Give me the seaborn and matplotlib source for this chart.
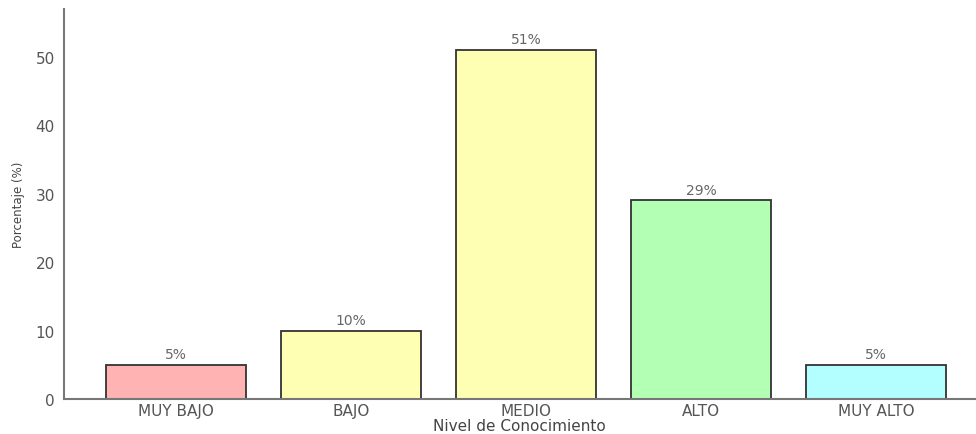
import matplotlib
matplotlib.use("Agg")
import matplotlib.pyplot as plt
import seaborn as sns
import pandas as pd

niveles = ["MUY BAJO", "BAJO", "MEDIO", "ALTO", "MUY ALTO"]
porcentajes = [5, 10, 51, 29, 5]
colores = ["#FFB3B3", "#FFFFB3", "#FFFFB3", "#B3FFB3", "#B3FFFF"]

sns.set_theme(style="white")
plt.rcParams["font.family"] = ["DejaVu Sans"]

df = pd.DataFrame({"Nivel": niveles, "Porcentaje": porcentajes})

fig = plt.figure(figsize=(9.76, 4.35), dpi=100)
ax = fig.add_axes([0.0656, 0.0805, 0.934, 0.897])

sns.barplot(data=df, x="Nivel", y="Porcentaje", hue="Nivel", palette=colores,
            legend=False, width=0.8, edgecolor="#333333", linewidth=1.3,
            saturation=1, ax=ax)

for i, v in enumerate(porcentajes):
    ax.text(i, v + 0.5, f"{v}%", ha="center", va="bottom", fontsize=10, color="#666666")

ax.set_xlim(-0.64, 4.57)
ax.set_ylim(0, 57)
ax.set_yticks([0, 10, 20, 30, 40, 50])
ax.set_xlabel("Nivel de Conocimiento", fontsize=11, color="#444444", labelpad=0)
ax.set_ylabel("Porcentaje (%)", fontsize=8.5, color="#444444", labelpad=8)
ax.tick_params(axis="both", colors="#555555", labelsize=11, length=3, width=0.8)
ax.tick_params(axis="x", pad=0)

for side in ["top", "right"]:
    ax.spines[side].set_visible(False)
for side in ["left", "bottom"]:
    ax.spines[side].set_color("#777777")
    ax.spines[side].set_linewidth(1.5)

fig.savefig("out.png", dpi=100)
